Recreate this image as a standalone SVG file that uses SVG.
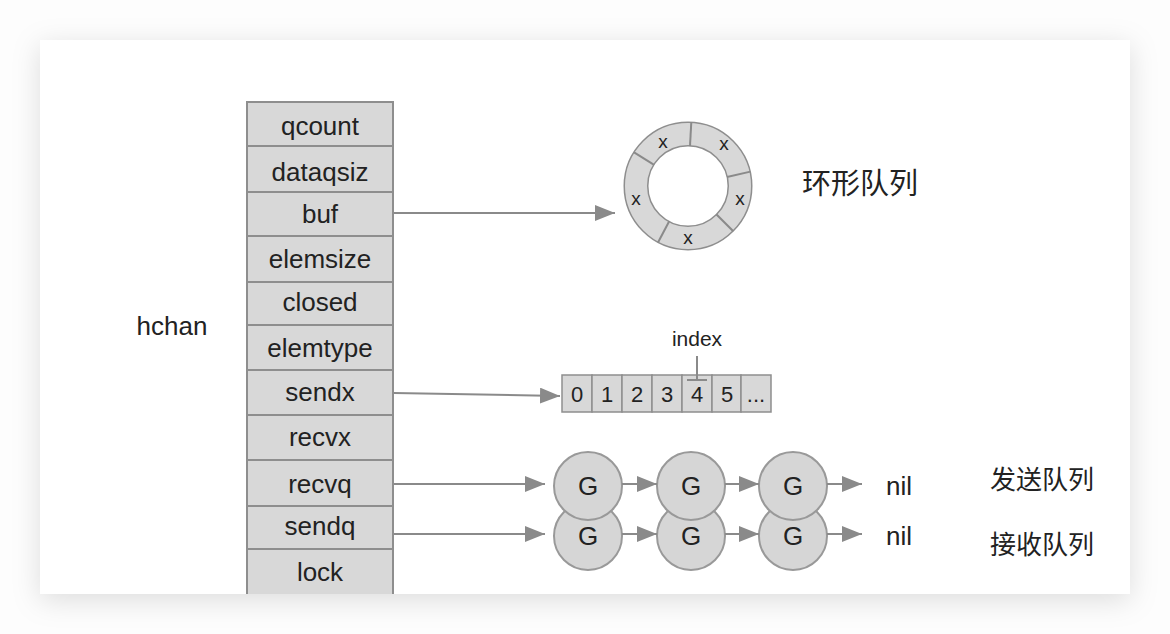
<svg xmlns="http://www.w3.org/2000/svg" width="1170" height="634" viewBox="0 0 1170 634">
<defs>
<filter id="shadow" x="-10%" y="-15%" width="120%" height="135%">
<feDropShadow dx="0" dy="6" stdDeviation="14" flood-color="#000" flood-opacity="0.13"/>
</filter>
<clipPath id="card"><rect x="40" y="40" width="1090" height="554"/></clipPath>
<marker id="arr" viewBox="0 0 20 16" refX="20" refY="8" markerWidth="20" markerHeight="16" markerUnits="userSpaceOnUse" orient="auto">
<path d="M0,0 L20,8 L0,16 Z" fill="#8a8a8a"/>
</marker>
<style>
.cell{fill:#d8d8d8;stroke:#8e8e8e;stroke-width:2}
.t{font-family:"Liberation Sans",Arial,sans-serif;font-size:26px;fill:#222;text-anchor:middle}
.s{font-family:"Liberation Sans",Arial,sans-serif;font-size:22px;fill:#222;text-anchor:middle}
.x{font-family:"Liberation Sans",Arial,sans-serif;font-size:19px;fill:#222;text-anchor:middle}
.cjk{font-family:"Noto Sans CJK SC",sans-serif;font-size:26px;fill:#222}
.big{font-size:29px}
.idx{font-size:21px}
.ln{stroke:#8a8a8a;stroke-width:2;fill:none}
.g{fill:#d6d6d6;stroke:#999;stroke-width:2}
.ac{fill:#d8d8d8;stroke:#8e8e8e;stroke-width:1.5}
</style>
</defs>
<rect width="1170" height="634" fill="#fdfdfd"/>
<rect x="40" y="40" width="1090" height="554" fill="#fff" filter="url(#shadow)"/>
<g clip-path="url(#card)">
<g id="hchan">
<rect class="cell" x="247" y="102" width="146" height="44"/>
<rect class="cell" x="247" y="146" width="146" height="46"/>
<rect class="cell" x="247" y="192" width="146" height="44"/>
<rect class="cell" x="247" y="236" width="146" height="46"/>
<rect class="cell" x="247" y="282" width="146" height="43"/>
<rect class="cell" x="247" y="325" width="146" height="45"/>
<rect class="cell" x="247" y="370" width="146" height="45"/>
<rect class="cell" x="247" y="415" width="146" height="45"/>
<rect class="cell" x="247" y="460" width="146" height="46"/>
<rect class="cell" x="247" y="506" width="146" height="43"/>
<rect class="cell" x="247" y="549" width="146" height="60"/>
<text class="t" x="320" y="135">qcount</text>
<text class="t" x="320" y="181">dataqsiz</text>
<text class="t" x="320" y="223">buf</text>
<text class="t" x="320" y="268">elemsize</text>
<text class="t" x="320" y="311">closed</text>
<text class="t" x="320" y="357">elemtype</text>
<text class="t" x="320" y="401">sendx</text>
<text class="t" x="320" y="446">recvx</text>
<text class="t" x="320" y="493">recvq</text>
<text class="t" x="320" y="535">sendq</text>
<text class="t" x="320" y="581">lock</text>
</g>
</g>
<text class="t" x="172" y="335">hchan</text>
<g id="ring">
<circle cx="688" cy="186" r="52" fill="none" stroke="#8e8e8e" stroke-width="25"/>
<circle cx="688" cy="186" r="52" fill="none" stroke="#d8d8d8" stroke-width="22"/>
<g class="ln" stroke-width="1.5">
<line x1="690" y1="146" x2="691.3" y2="122"/>
<line x1="727" y1="177" x2="750.4" y2="171.6"/>
<line x1="716.3" y1="214.3" x2="733.3" y2="231.3"/>
<line x1="669.2" y1="221.3" x2="658" y2="242.5"/>
<line x1="654.1" y1="164.8" x2="633.7" y2="152.1"/>
</g>
<text class="x" x="663" y="148">x</text>
<text class="x" x="724" y="150">x</text>
<text class="x" x="636" y="205">x</text>
<text class="x" x="740" y="205">x</text>
<text class="x" x="688" y="244">x</text>
</g>
<text class="cjk big" x="802" y="194">环形队列</text>
<g id="array">
<rect class="ac" x="562" y="375" width="30" height="37"/>
<rect class="ac" x="592" y="375" width="30" height="37"/>
<rect class="ac" x="622" y="375" width="30" height="37"/>
<rect class="ac" x="652" y="375" width="30" height="37"/>
<rect class="ac" x="682" y="375" width="30" height="37"/>
<rect class="ac" x="712" y="375" width="29" height="37"/>
<rect class="ac" x="741" y="375" width="30" height="37"/>
<text class="s" x="577" y="402">0</text>
<text class="s" x="607" y="402">1</text>
<text class="s" x="637" y="402">2</text>
<text class="s" x="667" y="402">3</text>
<text class="s" x="697" y="402">4</text>
<text class="s" x="727" y="402">5</text>
<text class="s" x="756" y="402">...</text>
<text class="s idx" x="697" y="346">index</text>
<line class="ln" x1="697" y1="356" x2="697" y2="380" stroke-width="1.5"/>
<line class="ln" x1="687" y1="380" x2="707" y2="380" stroke-width="1.5"/>
</g>
<g id="sendq-row">
<circle class="g" cx="588" cy="536" r="34"/>
<circle class="g" cx="691" cy="536" r="34"/>
<circle class="g" cx="793" cy="536" r="34"/>
<text class="t" x="588" y="545">G</text>
<text class="t" x="691" y="545">G</text>
<text class="t" x="793" y="545">G</text>
</g>
<g id="recvq-row">
<circle class="g" cx="588" cy="486" r="34"/>
<circle class="g" cx="691" cy="486" r="34"/>
<circle class="g" cx="793" cy="486" r="34"/>
<text class="t" x="588" y="495">G</text>
<text class="t" x="691" y="495">G</text>
<text class="t" x="793" y="495">G</text>
</g>
<text class="t" x="899" y="495">nil</text>
<text class="t" x="899" y="545">nil</text>
<text class="cjk" x="990" y="489">发送队列</text>
<text class="cjk" x="990" y="554">接收队列</text>
<g id="connectors" class="ln" marker-end="url(#arr)">
<line x1="394" y1="213" x2="615" y2="213"/>
<line x1="394" y1="393" x2="560" y2="396"/>
<line x1="394" y1="484" x2="545" y2="484"/>
<line x1="622" y1="484" x2="657" y2="484"/>
<line x1="725" y1="484" x2="759" y2="484"/>
<line x1="827" y1="484" x2="862" y2="484"/>
<line x1="394" y1="534" x2="545" y2="534"/>
<line x1="622" y1="534" x2="657" y2="534"/>
<line x1="725" y1="534" x2="759" y2="534"/>
<line x1="827" y1="534" x2="862" y2="534"/>
</g>
</svg>
